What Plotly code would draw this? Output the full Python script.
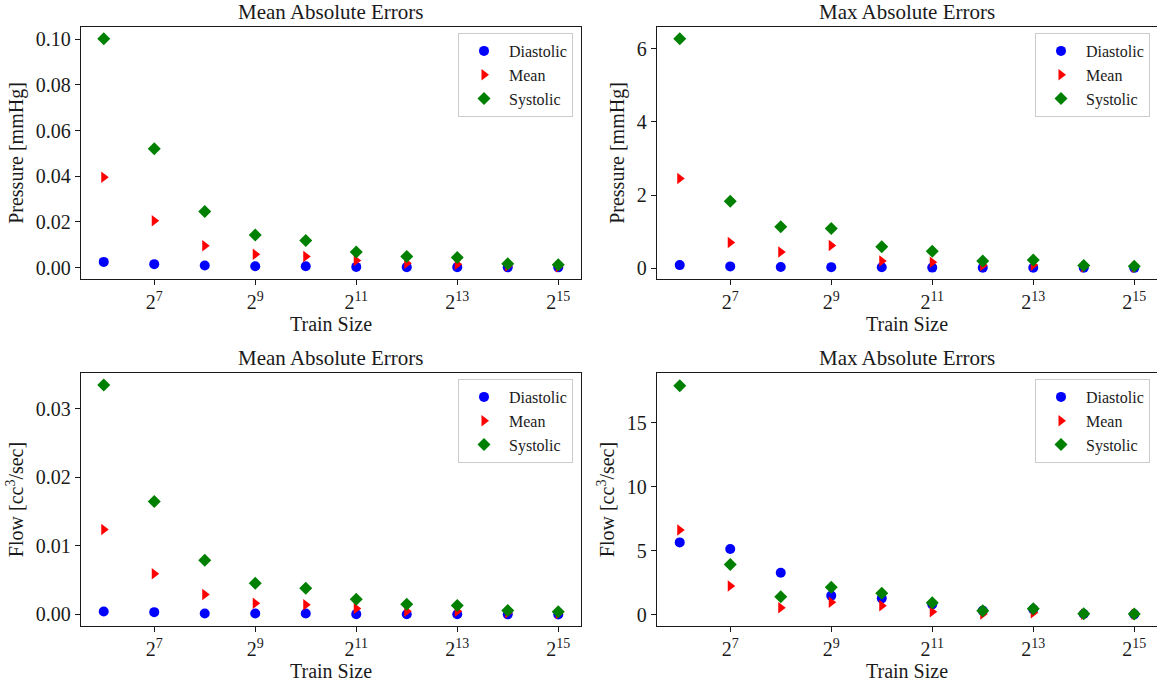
import math
import plotly.graph_objects as go

# ---------------- data ----------------
exponents = [6, 7, 8, 9, 10, 11, 12, 13, 14, 15]
train_size = [2 ** e for e in exponents]
tick_exponents = [7, 9, 11, 13, 15]

series_names = ["Diastolic", "Mean", "Systolic"]

# Pressure, mean absolute errors [mmHg]
p_mae_dia = [0.0025, 0.0015, 0.0009, 0.0006, 0.0006, 0.0003, 0.0002, 0.0002, 0.0001, 0.0001]
p_mae_mean = [0.0396, 0.0205, 0.0096, 0.0058, 0.0049, 0.0031, 0.0019, 0.0015, 0.0007, 0.0004]
p_mae_sys = [0.1002, 0.0521, 0.0246, 0.0143, 0.0119, 0.0068, 0.0049, 0.0044, 0.0017, 0.0012]

# Pressure, max absolute errors [mmHg]
p_max_dia = [0.08, 0.045, 0.03, 0.025, 0.02, 0.012, 0.01, 0.01, 0.006, 0.005]
p_max_mean = [2.45, 0.70, 0.44, 0.62, 0.19, 0.16, 0.07, 0.08, 0.03, 0.02]
p_max_sys = [6.28, 1.83, 1.13, 1.08, 0.58, 0.46, 0.19, 0.22, 0.07, 0.05]

# Flow, mean absolute errors [cc^3/sec]
f_mae_dia = [0.00044, 0.00034, 0.00015, 0.00015, 0.00014, 0.00005, 0.00004, 0.00004, 0.00002, 0.00001]
f_mae_mean = [0.0124, 0.00593, 0.00292, 0.00165, 0.00141, 0.00088, 0.00049, 0.00049, 0.00024, 0.00015]
f_mae_sys = [0.0335, 0.01648, 0.00793, 0.00457, 0.00384, 0.00224, 0.00151, 0.00131, 0.00058, 0.00039]

# Flow, max absolute errors [cc^3/sec]
f_max_dia = [5.67, 5.15, 3.30, 1.51, 1.30, 0.83, 0.34, 0.44, 0.08, 0.05]
f_max_mean = [6.63, 2.26, 0.57, 0.99, 0.73, 0.26, 0.08, 0.18, 0.05, 0.05]
f_max_sys = [17.91, 3.95, 1.43, 2.16, 1.69, 0.96, 0.34, 0.49, 0.10, 0.08]

panel_titles = ["Mean Absolute Errors", "Max Absolute Errors",
                "Mean Absolute Errors", "Max Absolute Errors"]
y_titles = ["Pressure [mmHg]", "Pressure [mmHg]",
            "Flow [cc<sup>3</sup>/sec]", "Flow [cc<sup>3</sup>/sec]"]
x_title = "Train Size"

# ---------------- style ----------------
W, H = 1157, 682
FONT = "Liberation Serif, Times New Roman, serif"
INK = "#1a1a1a"
colors = ["#0000ff", "#ff0000", "#008000"]
symbols = ["circle", "triangle-right", "diamond"]
msizes = [10, 10, 10]

panels = [
    (p_mae_dia, p_mae_mean, p_mae_sys),
    (p_max_dia, p_max_mean, p_max_sys),
    (f_mae_dia, f_mae_mean, f_mae_sys),
    (f_max_dia, f_max_mean, f_max_sys),
]

# pixel boxes (left, right, top, bottom)
boxes = [(81, 581, 27, 279), (657, 1157, 27, 279),
         (81, 581, 373, 626), (657, 1157, 373, 626)]
title_centers = [12, 12, 358, 358]

y_ranges = [[-0.0050, 0.1054], [-0.30, 6.60], [-0.00168, 0.03524], [-0.86, 18.9]]
y_dticks = [0.02, 2, 0.01, 5]
y_formats = [".2f", "d", ".2f", "d"]
legend_right = [573, 1150, 573, 1150]
legend_top = [33, 33, 379, 379]

log2 = math.log10(2)
x_range = [(6 - 0.45) * log2, (15 + 0.45) * log2]

fig = go.Figure()
layout = dict(
    width=W, height=H,
    margin=dict(l=0, r=0, t=0, b=0),
    paper_bgcolor="white", plot_bgcolor="white",
    font=dict(family=FONT, size=20, color=INK),
    showlegend=True,
)
annotations = []

for i, (vals, box) in enumerate(zip(panels, boxes)):
    n = i + 1
    xa = "x" if n == 1 else f"x{n}"
    ya = "y" if n == 1 else f"y{n}"
    lg = "legend" if n == 1 else f"legend{n}"
    for k in range(3):
        fig.add_trace(go.Scatter(
            x=train_size, y=vals[k], mode="markers", name=series_names[k],
            marker=dict(color=colors[k], symbol=symbols[k], size=msizes[k], line=dict(width=0)),
            xaxis=xa, yaxis=ya, legend=lg, cliponaxis=False,
        ))
    l, r, t, b = box
    xd = [l / W, min(r / W, 1.0)]
    yd = [1 - b / H, 1 - t / H]
    layout["xaxis" if n == 1 else f"xaxis{n}"] = dict(
        domain=xd, anchor=ya, type="log", range=x_range,
        tickvals=[2 ** e for e in tick_exponents],
        ticktext=[f"2<sup>{e}</sup>" for e in tick_exponents],
        ticks="outside", ticklen=5, tickwidth=1, tickcolor=INK,
        showline=True, linecolor=INK, linewidth=1.3, mirror=True,
        showgrid=False, zeroline=False,
        tickfont=dict(family=FONT, size=20, color=INK),
        title=dict(text=x_title, font=dict(family=FONT, size=20, color=INK), standoff=2),
        automargin=False,
    )
    layout["yaxis" if n == 1 else f"yaxis{n}"] = dict(
        domain=yd, anchor=xa, range=y_ranges[i], dtick=y_dticks[i], tick0=0,
        tickformat=y_formats[i],
        ticks="outside", ticklen=5, tickwidth=1, tickcolor=INK,
        showline=True, linecolor=INK, linewidth=1.3, mirror=True,
        showgrid=False, zeroline=False,
        tickfont=dict(family=FONT, size=20, color=INK),
        title=dict(text=y_titles[i], font=dict(family=FONT, size=20, color=INK), standoff=6),
        automargin=False,
    )
    layout[lg] = dict(
        x=legend_right[i] / W, xanchor="right",
        y=1 - legend_top[i] / H, yanchor="top",
        bgcolor="rgba(255,255,255,0.8)", bordercolor="#cccccc", borderwidth=1,
        font=dict(family=FONT, size=16, color=INK),
        itemwidth=40, tracegroupgap=0,
    )
    annotations.append(dict(
        text=panel_titles[i], xref="paper", yref="paper",
        x=(l + r) / 2 / W, y=1 - title_centers[i] / H, xanchor="center", yanchor="middle",
        showarrow=False, font=dict(family=FONT, size=21, color=INK), borderpad=0,
    ))

layout["annotations"] = annotations
fig.update_layout(**layout)
fig.write_html(
    "out.html",
    config={"displayModeBar": False},
    post_script="document.body.style.margin='0';document.body.style.overflow='hidden';",
)
